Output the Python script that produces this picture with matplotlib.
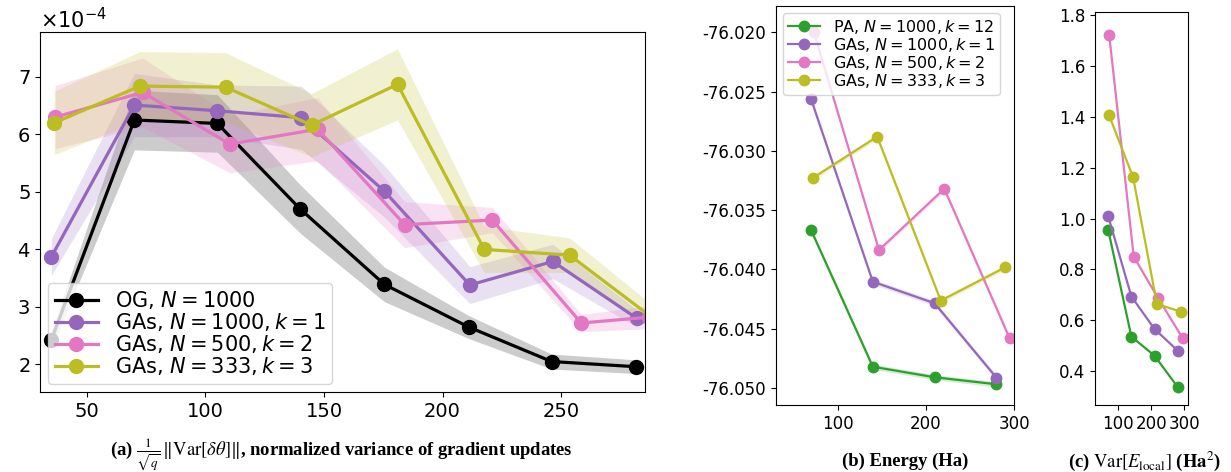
import numpy as np
import matplotlib
matplotlib.use("Agg")
from matplotlib import pyplot as plt

plt.rcParams['axes.unicode_minus'] = False

# ---------------- data (a): normalized gradient variance, units of 1e-4
og_x = [35, 70, 105, 140, 175.5, 211, 246, 281.5]
og_y = [2.43, 6.25, 6.19, 4.70, 3.39, 2.65, 2.05, 1.96]
og_s = [0.15, 0.52, 0.50, 0.42, 0.30, 0.20, 0.13, 0.12]

ga1_x = [35, 70, 105, 140.5, 175.5, 211.5, 246.5, 282]
ga1_y = [3.87, 6.51, 6.41, 6.29, 5.01, 3.38, 3.79, 2.80]
ga1_s = [0.32, 0.55, 0.45, 0.55, 0.45, 0.32, 0.30, 0.15]

ga2_x = [36.6, 73.5, 110.3, 147.3, 184, 221, 258.5, 287]
ga2_y = [6.30, 6.73, 5.83, 6.09, 4.43, 4.51, 2.72, 2.82]
ga2_s = [0.55, 0.60, 0.50, 0.55, 0.40, 0.22, 0.15, 0.20]

ga3_x = [36.2, 72.4, 108.5, 144.8, 181, 217.6, 253.6, 289.5]
ga3_y = [6.20, 6.84, 6.82, 6.16, 6.87, 4.00, 3.90, 2.78]
ga3_s = [0.55, 0.60, 0.60, 0.55, 0.62, 0.40, 0.30, 0.22]

# ---------------- data (b) energy and (c) local-energy variance
pa_x = [70, 140, 210, 280]
pa_e = [-76.03667, -76.04820, -76.04909, -76.04968]
pa_v = [0.955, 0.535, 0.460, 0.336]

g1_x = [70, 140, 210, 280]
g1_e = [-76.02562, -76.04103, -76.04285, -76.04912]
g1_v = [1.009, 0.693, 0.565, 0.480]

g2_x = [73, 147, 221, 295]
g2_e = [-76.01995, -76.03836, -76.03319, -76.04580]
g2_v = [1.722, 0.850, 0.686, 0.529]

g3_x = [72.5, 145, 217, 290]
g3_e = [-76.03226, -76.02880, -76.04263, -76.03982]
g3_v = [1.407, 1.163, 0.664, 0.633]

band_e = 0.00022

black = 'black'
purple = '#9467bd'
pink = '#e377c2'
olive = '#bcbd22'
green = '#2ca02c'

fig = plt.figure(figsize=(12.31, 4.72), dpi=100)

# ================= panel (a)
ax = fig.add_axes([40/1231, 1-392/472, 605/1231, 360/472])
series_a = [
    (og_x, og_y, og_s, black, r'OG, $N = 1000$'),
    (ga1_x, ga1_y, ga1_s, purple, r'GAs, $N = 1000, k = 1$'),
    (ga2_x, ga2_y, ga2_s, pink, r'GAs, $N = 500, k = 2$'),
    (ga3_x, ga3_y, ga3_s, olive, r'GAs, $N = 333, k = 3$'),
]
for x, y, s, c, lab in series_a:
    y = np.array(y) * 1e-4
    s = np.array(s) * 1e-4
    ax.fill_between(x, y - s, y + s, color=c, alpha=0.2, lw=0)
    ax.plot(x, y, '-o', color=c, lw=2.3, ms=10, label=lab)
ax.set_xlim(30.2, 285.4)
ax.set_ylim(1.52e-4, 7.78e-4)
ax.set_xticks([50, 100, 150, 200, 250])
ax.ticklabel_format(axis='y', style='sci', scilimits=(0, 0), useMathText=True)
ax.tick_params(labelsize=14)
ax.yaxis.get_offset_text().set_fontsize(15)
ax.legend(loc='lower left', fontsize=15, handlelength=2.1, borderaxespad=0.4,
          handletextpad=0.8, labelspacing=0.0, borderpad=0.3)

# ================= panel (b)
bx = fig.add_axes([776/1231, 1-405/472, 238/1231, 399/472])
series_b = [
    (pa_x, pa_e, green, r'PA, $N = 1000, k = 12$'),
    (g1_x, g1_e, purple, r'GAs, $N = 1000, k = 1$'),
    (g2_x, g2_e, pink, r'GAs, $N = 500, k = 2$'),
    (g3_x, g3_e, olive, r'GAs, $N = 333, k = 3$'),
]
for x, y, c, lab in series_b:
    y = np.array(y)
    bx.fill_between(x, y - band_e, y + band_e, color=c, alpha=0.2, lw=0)
    bx.plot(x, y, '-o', color=c, lw=1.6, ms=7.5, label=lab)
bx.set_xlim(30.3, 300)
bx.set_ylim(-76.05143, -76.01778)
bx.set_xticks([100, 200, 300])
bx.set_yticks([-76.050, -76.045, -76.040, -76.035, -76.030, -76.025, -76.020])
bx.yaxis.set_major_formatter(matplotlib.ticker.FormatStrFormatter('%.3f'))
bx.tick_params(labelsize=12)
bx.legend(loc='upper left', fontsize=11.5, handlelength=2.0, borderaxespad=0.45,
          labelspacing=0.0, borderpad=0.3)

# ================= panel (c)
cx = fig.add_axes([1095/1231, 1-405/472, 93/1231, 393/472])
series_c = [
    (pa_x, pa_v, green),
    (g1_x, g1_v, purple),
    (g2_x, g2_v, pink),
    (g3_x, g3_v, olive),
]
for x, y, c in series_c:
    cx.plot(x, y, '-o', color=c, lw=1.6, ms=7.5)
cx.set_xlim(30, 311)
cx.set_ylim(0.266, 1.8134)
cx.set_xticks([100, 200, 300])
cx.set_yticks([0.4, 0.6, 0.8, 1.0, 1.2, 1.4, 1.6, 1.8])
cx.tick_params(labelsize=12)

# ================= captions
cap = dict(ha='center', va='center', fontsize=13.4, fontweight='bold',
           family='Liberation Serif', math_fontfamily='stix')
fig.text(341/1231, 1-455/472,
         r'(a) $\frac{1}{\sqrt{q}}\,\|\mathrm{Var}[\delta\theta]\|$, normalized variance of gradient updates',
         **cap)
fig.text(905/1231, 1-461/472, '(b) Energy (Ha)', **cap)
fig.text(1145/1231, 1-461/472, r'(c) $\mathrm{Var}[E_{\mathrm{local}}]$ ($\mathbf{Ha}^2$)', **cap)

fig.savefig('out.png', dpi=100)
